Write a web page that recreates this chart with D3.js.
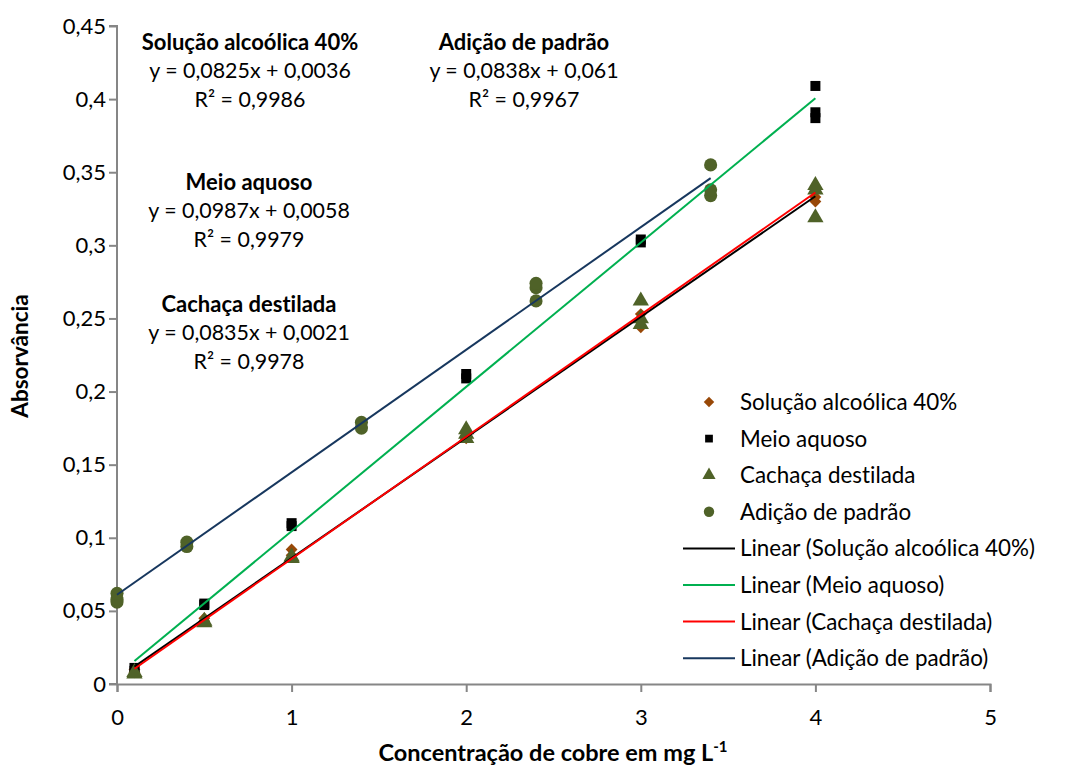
<!DOCTYPE html>
<html><head><meta charset="utf-8">
<script src="https://cdn.jsdelivr.net/npm/d3@7/dist/d3.min.js"></script>
<style>body{margin:0;background:#fff}svg{display:block}text{font-family:Lato,"Liberation Sans",sans-serif;font-variant-ligatures:none;font-feature-settings:"liga" 0}</style>
</head><body>
<svg id="c" width="1066" height="770"></svg>
<script>
const xTicks = [0,1,2,3,4,5];
const yTicks = [0,0.05,0.1,0.15,0.2,0.25,0.3,0.35,0.4,0.45];

const seriesNames = ["Solução alcoólica 40%","Meio aquoso","Cachaça destilada","Adição de padrão"];

const solX = [0.1,0.1,0.5,0.5,1,1,2,2,3,3,3,4,4,4];
const solY = [0.008,0.010,0.043,0.045,0.092,0.088,0.170,0.168,0.244,0.253,0.248,0.330,0.333,0.337];

const aqX = [0.1,0.1,0.5,0.5,1,1,2,2,3,3,4,4,4];
const aqY = [0.009,0.011,0.054,0.055,0.108,0.110,0.209,0.212,0.302,0.304,0.387,0.391,0.409];

const cacX = [0.1,0.1,0.5,0.5,1,1,2,2,2,3,3,3,4,4,4];
const cacY = [0.007,0.008,0.042,0.043,0.086,0.087,0.168,0.171,0.174,0.262,0.250,0.246,0.319,0.338,0.341];

const adX = [0,0,0,0.4,0.4,1.4,1.4,2.4,2.4,2.4,3.4,3.4,3.4];
const adY = [0.056,0.058,0.062,0.094,0.097,0.175,0.179,0.262,0.271,0.274,0.334,0.338,0.355];

const slopes = [0.0825,0.0987,0.0835,0.0838];
const intercepts = [0.0036,0.0058,0.0021,0.061];
const fitRanges = [[0.1,4],[0.1,4],[0.1,4],[0,3.4]];
const eqTexts = ["y = 0,0825x + 0,0036","y = 0,0987x + 0,0058","y = 0,0835x + 0,0021","y = 0,0838x + 0,061"];
const r2Texts = ["R² = 0,9986","R² = 0,9979","R² = 0,9978","R² = 0,9967"];

const markerColors = ["#984807","#000000","#4F6228","#4F6228"];
const lineColors = ["#000000","#00B050","#FF0000","#17375E"];

const svg = d3.select("#c");
const x = d3.scaleLinear().domain([0,5]).range([117,990]);
const y = d3.scaleLinear().domain([0,0.45]).range([684,26]);
const fmt = d => d===0 ? "0" : String(+d.toFixed(2)).replace(".",",");

const gx = svg.append("g").attr("transform","translate(0,684)")
  .call(d3.axisBottom(x).tickValues(xTicks).tickSize(8).tickPadding(17).tickFormat(fmt));
const gy = svg.append("g").attr("transform","translate(117,0)")
  .call(d3.axisLeft(y).tickValues(yTicks).tickSize(8).tickPadding(3).tickFormat(fmt));
[gx,gy].forEach(g=>{
  g.select(".domain").attr("stroke","#868686").attr("stroke-width",2);
  g.selectAll(".tick line").attr("stroke","#868686").attr("stroke-width",2);
  g.selectAll(".tick text").attr("font-size",22).attr("fill","#000").style("font-family","Lato,'Liberation Sans',sans-serif");
});
gy.select(".domain").attr("d","M-8,26H0V684H-8");

const data = [[solX,solY],[aqX,aqY],[cacX,cacY],[adX,adY]];
const symTypes = [d3.symbolSquare,d3.symbolSquare,d3.symbolTriangle,d3.symbolCircle];

function drawMarker(g, i, cx, cy, size){
  const sym = d3.symbol().type(symTypes[i]).size(size);
  g.append("path").attr("d",sym())
    .attr("transform",`translate(${cx},${cy})` + (i===0 ? " rotate(45)" : ""))
    .attr("fill",markerColors[i]);
}

const pts = svg.append("g");
data.forEach(([xs,ys],i)=>{
  xs.forEach((xv,j)=>drawMarker(pts,i,x(xv),y(ys[j]),[70,100,115,135][i]));
});

const lines = svg.append("g");
[3,1,0,2].forEach(i=>{
  const [a,b] = fitRanges[i];
  lines.append("line").attr("x1",x(a)).attr("y1",y(slopes[i]*a+intercepts[i]))
    .attr("x2",x(b)).attr("y2",y(slopes[i]*b+intercepts[i]))
    .attr("stroke",lineColors[i]).attr("stroke-width",2);
});

// annotations
const annPos = [[250,42],[249,182],[249,304],[524,42]];
annPos.forEach(([cx,cy],i)=>{
  const g = svg.append("g").attr("text-anchor","middle");
  g.append("text").attr("x",cx).attr("y",cy+8).attr("font-size",22).attr("font-weight","bold").text(seriesNames[i]);
  g.append("text").attr("x",cx).attr("y",cy+36).attr("font-size",21.4).text(eqTexts[i]);
  g.append("text").attr("x",cx).attr("y",cy+65).attr("font-size",21.4).text(r2Texts[i]);
});

// legend
const leg = svg.append("g");
const legY0 = 402, legDy = 36.6;
seriesNames.forEach((n,i)=>{
  const yy = legY0 + i*legDy;
  drawMarker(leg, i, 709, yy, [55,60,75,85][i]);
  leg.append("text").attr("x",740).attr("y",yy+8).attr("font-size",22.4).text(n);
});
seriesNames.forEach((n,i)=>{
  const yy = legY0 + (i+4)*legDy;
  leg.append("line").attr("x1",683).attr("x2",735).attr("y1",yy).attr("y2",yy).attr("stroke",lineColors[i]).attr("stroke-width",2);
  leg.append("text").attr("x",740).attr("y",yy+8).attr("font-size",22.4).text(`Linear (${n})`);
});

// axis titles
svg.append("text").attr("transform","translate(28,356) rotate(-90)").attr("text-anchor","middle")
  .attr("font-size",22.5).attr("font-weight","bold").text("Absorvância");
const xt = svg.append("text").attr("x",553).attr("y",761).attr("text-anchor","middle")
  .attr("font-size",23.5).attr("font-weight","bold");
xt.append("tspan").text("Concentração de cobre em mg L");
xt.append("tspan").attr("dy",-9).attr("font-size",15).text("-1");
</script>
</body></html>
